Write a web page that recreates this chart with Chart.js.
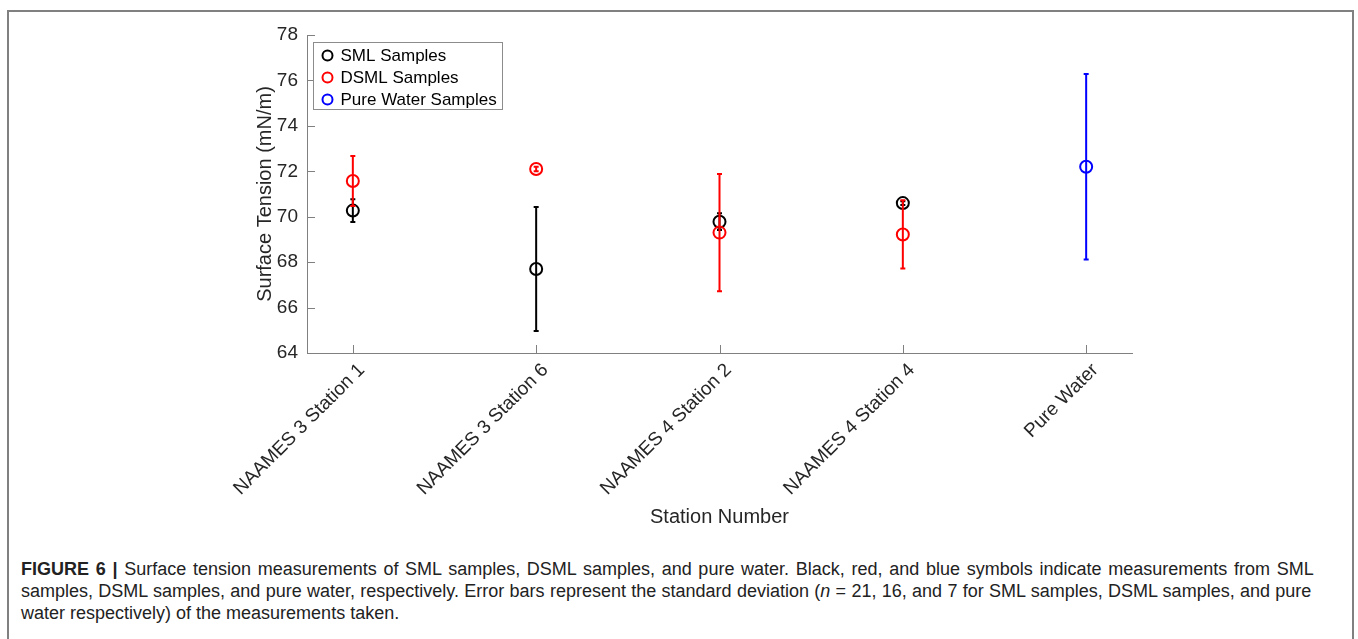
<!DOCTYPE html>
<html>
<head>
<meta charset="utf-8">
<script src="https://cdn.jsdelivr.net/npm/chart.js@4/dist/chart.umd.min.js"></script>
<style>
  html, body { margin: 0; padding: 0; background: #fff; }
  body { width: 1358px; height: 639px; position: relative; overflow: hidden; }
  .frame { position: absolute; left: 7px; top: 10px; width: 1347px; height: 660px; border: 2px solid #808080; box-sizing: border-box; }
  #chart-wrap { position: absolute; left: 0; top: 0; width: 1358px; height: 540px; }
  .caption { position: absolute; left: 21px; top: 558px; font-family: "Liberation Sans Narrow", "Arial Narrow", "Liberation Sans", Arial, sans-serif; font-size: 18px; line-height: 22px; color: #222; white-space: nowrap; }
  .caption b { font-weight: bold; }
  .caption .l1 { word-spacing: 1.7px; }
  .caption .l2 { word-spacing: 0.3px; }
</style>
</head>
<body>
<div class="frame"></div>
<div id="chart-wrap"><canvas id="tension-chart" width="1358" height="540"></canvas></div>
<div class="caption">
  <div class="l1"><b>FIGURE 6 |</b> Surface tension measurements of SML samples, DSML samples, and pure water. Black, red, and blue symbols indicate measurements from SML</div>
  <div class="l2">samples, DSML samples, and pure water, respectively. Error bars represent the standard deviation (<i>n</i> = 21, 16, and 7 for SML samples, DSML samples, and pure</div>
  <div>water respectively) of the measurements taken.</div>
</div>
<script>
// --- Data ---
const stations = ['NAAMES 3 Station 1', 'NAAMES 3 Station 6', 'NAAMES 4 Station 2', 'NAAMES 4 Station 4', 'Pure Water'];
const stationPos = [1, 2, 3, 4, 5];
const smlMean = [70.27, 67.70, 69.78, 70.60];
const smlSd = [0.50, 2.73, 0.37, 0.08];
const dsmlMean = [71.57, 72.10, 69.30, 69.22];
const dsmlSd = [1.10, 0.10, 2.58, 1.50];
const pureMean = [72.20];
const pureSd = [4.08];
const yTicks = [64, 66, 68, 70, 72, 74, 76, 78];

const axisGrey = '#808080';
const textDark = '#262626';
const fontFamily = '"Liberation Sans", Arial, Helvetica, sans-serif';

function points(means, offset) {
    return means.map((m, i) => ({ x: stationPos[i + offset], y: m }));
}

// error bars drawn right after each dataset, using the y scale
const errorBars = {
    id: 'errorBars',
    afterDatasetDraw(chart, args) {
        const ds = chart.data.datasets[args.index];
        const yScale = chart.scales.y;
        const ctx = chart.ctx;
        ctx.save();
        ctx.strokeStyle = ds.borderColor;
        ctx.lineWidth = 2;
        args.meta.data.forEach((el, i) => {
            const p = ds.data[i];
            const err = ds.errors[i];
            const top = yScale.getPixelForValue(p.y + err);
            const bot = yScale.getPixelForValue(p.y - err);
            ctx.beginPath();
            ctx.moveTo(el.x, top);
            ctx.lineTo(el.x, bot);
            ctx.moveTo(el.x - 2.5, top);
            ctx.lineTo(el.x + 2.5, top);
            ctx.moveTo(el.x - 2.5, bot);
            ctx.lineTo(el.x + 2.5, bot);
            ctx.stroke();
        });
        ctx.restore();
    }
};

// inward tick marks and the boxed legend, MATLAB style
const axisDecor = {
    id: 'axisDecor',
    afterDraw(chart) {
        const { ctx, chartArea } = chart;
        const x = chart.scales.x;
        const y = chart.scales.y;
        ctx.save();
        ctx.strokeStyle = axisGrey;
        ctx.lineWidth = 1;
        ctx.beginPath();
        yTicks.forEach(v => {
            const py = Math.round(y.getPixelForValue(v)) + 0.5;
            ctx.moveTo(chartArea.left, py);
            ctx.lineTo(chartArea.left + 8, py);
        });
        stationPos.forEach(v => {
            const px = Math.round(x.getPixelForValue(v)) + 0.5;
            ctx.moveTo(px, chartArea.bottom);
            ctx.lineTo(px, chartArea.bottom - 8);
        });
        ctx.stroke();

        // legend box
        const lx = chartArea.left + 6.5;
        const ly = chartArea.top + 7.5;
        ctx.fillStyle = '#fff';
        ctx.fillRect(lx, ly, 189, 67);
        ctx.strokeStyle = '#8c8c8c';
        ctx.strokeRect(lx, ly, 189, 67);
        ctx.font = '17px ' + fontFamily;
        ctx.textBaseline = 'middle';
        chart.data.datasets.forEach((ds, i) => {
            const cy = ly + 13 + i * 22;
            ctx.beginPath();
            ctx.lineWidth = 2;
            ctx.strokeStyle = ds.borderColor;
            ctx.arc(lx + 14, cy, 5, 0, Math.PI * 2);
            ctx.stroke();
            ctx.fillStyle = '#000';
            ctx.fillText(ds.label, lx + 27, cy + 1);
        });
        ctx.restore();
    }
};

const ctx = document.getElementById('tension-chart').getContext('2d');
new Chart(ctx, {
    type: 'scatter',
    data: {
        datasets: [{
            label: 'SML Samples',
            data: points(smlMean, 0),
            errors: smlSd,
            borderColor: '#000000',
            order: 3
        }, {
            label: 'DSML Samples',
            data: points(dsmlMean, 0),
            errors: dsmlSd,
            borderColor: '#ff0000',
            order: 2
        }, {
            label: 'Pure Water Samples',
            data: points(pureMean, 4),
            errors: pureSd,
            borderColor: '#0000ff',
            order: 1
        }]
    },
    options: {
        responsive: false,
        animation: false,
        events: [],
        layout: { padding: { left: 253, top: 35, right: 226, bottom: 11 } },
        elements: {
            point: { radius: 6, borderWidth: 2, backgroundColor: 'rgba(0,0,0,0)', pointStyle: 'circle' }
        },
        plugins: {
            legend: { display: false },
            tooltip: { enabled: false }
        },
        scales: {
            x: {
                type: 'linear',
                min: 0.75,
                max: 5.25,
                grid: { display: false, drawTicks: false },
                border: { color: axisGrey, width: 1 },
                afterBuildTicks: scale => { scale.ticks = stationPos.map(v => ({ value: v })); },
                afterFit: scale => { scale.height = 176; },
                ticks: {
                    minRotation: 45,
                    maxRotation: 45,
                    padding: 6,
                    labelOffset: 9,
                    color: textDark,
                    font: { family: fontFamily, size: 19 },
                    callback: v => stations[v - 1]
                },
                title: {
                    display: true,
                    text: 'Station Number',
                    color: textDark,
                    padding: 0,
                    font: { family: fontFamily, size: 20 }
                }
            },
            y: {
                min: 64,
                max: 78,
                grid: { display: false, drawTicks: false },
                border: { color: axisGrey, width: 1 },
                afterFit: scale => { scale.width = 54; },
                ticks: {
                    stepSize: 2,
                    padding: 9,
                    color: textDark,
                    font: { family: fontFamily, size: 19 }
                },
                title: {
                    display: true,
                    text: 'Surface Tension (mN/m)',
                    color: textDark,
                    padding: 0,
                    font: { family: fontFamily, size: 20 }
                }
            }
        }
    },
    plugins: [errorBars, axisDecor]
});
</script>
</body>
</html>
